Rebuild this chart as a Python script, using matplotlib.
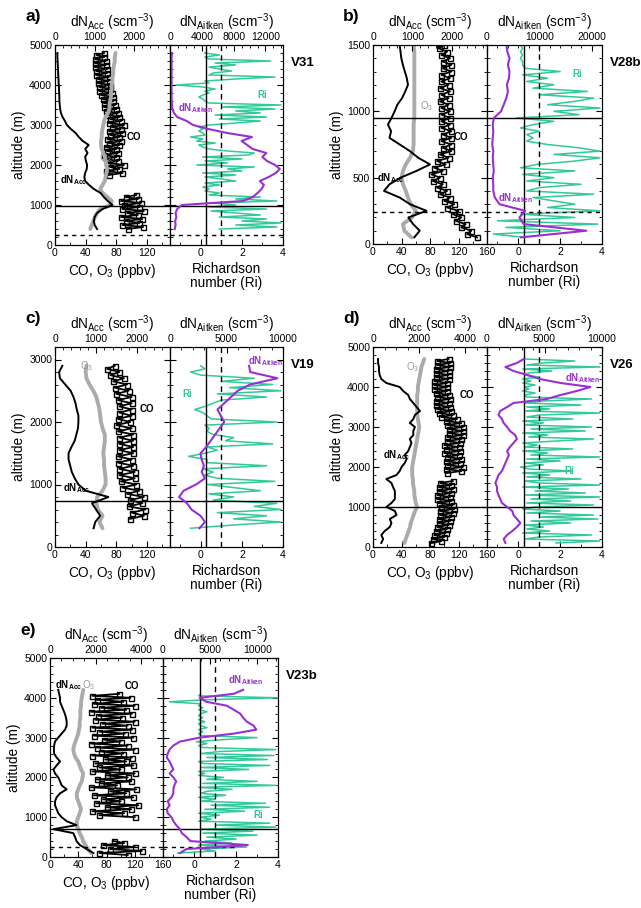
import numpy as np
import matplotlib
matplotlib.use("Agg")
import matplotlib.pyplot as plt
from matplotlib.ticker import MultipleLocator

plt.rcParams['font.family'] = ['Liberation Sans', 'DejaVu Sans']
plt.rcParams['mathtext.fontset'] = 'custom'
plt.rcParams['mathtext.rm'] = 'Liberation Sans'
plt.rcParams['mathtext.it'] = 'Liberation Sans:italic'
plt.rcParams['mathtext.bf'] = 'Liberation Sans:bold'

PURPLE = '#9a2fd2'
GREEN = '#33c99a'
GREY = '#ababab'

# ---------------- panel a) V31 ----------------
a_alt = np.arange(400, 4801, 100)
a_acc = [1060, 1000, 980, 1000, 1060, 1200, 1450, 1330, 1230, 1150,
         980, 860, 760, 740, 760, 800, 810, 780, 760, 820,
         760, 850, 700, 600, 520, 400, 300, 250, 190, 150,
         130, 120, 110, 110, 105, 100, 95, 90, 85, 80,
         75, 70, 65, 60, 60]
a_o3 = [46, 48, 50, 52, 55, 59, 72, 74, 68, 62,
        59, 62, 65, 66, 67, 68, 67, 66, 65, 63,
        61, 60, 60, 61, 61, 62, 63, 64, 66, 69,
        71, 71, 72, 73, 73, 74, 74, 75, 75, 76,
        76, 77, 78, 78, 79]
a_ait = [600, 700, 650, 800, 700, 900, 1500, 9200, 10400, 11000,
         11500, 11800, 11300, 12400, 13300, 13800, 13200, 12200, 11600, 12100,
         10400, 9700, 9000, 10300, 7200, 4800, 2900, 2100, 900, 500,
         300, 250, 200, 200, 200, 200, 200, 200, 200, 200,
         200, 200, 200, 200, 250]
a_co_alt = np.arange(400, 4801, 50)
a_co = [95, 115, 88, 110, 92, 114, 86, 108, 94, 116,
        88, 110, 90, 112, 86, 108, 92, 106,
        np.nan, np.nan, np.nan, np.nan, np.nan, np.nan, np.nan, np.nan, np.nan,
        70, 88, 66, 84, 72, 90, 68, 82, 66, 80,
        64, 82, 68, 80, 66, 84, 70,
        86, 68, 84, 72, 88, 70, 86, 74, 90, 70,
        86, 72, 84, 68, 82, 66, 80, 64, 78, 64,
        76, 62, 76, 60, 74, 58, 72, 58, 72, 56,
        70, 56, 70, 54, 68, 54, 68, 52, 66, 52,
        66, 52, 64, 54, 64]
a_ri_alt = np.arange(400, 4801, 50)
a_ri = [0.9, 3.7, 1.7, 3.9, 2.0, 3.2, 0.9, 2.9, 1.7, 0.5,
        3.2, 0.4, 1.7, 0.6, 3.7, 1.7, 2.9, 0.4, 0.9, 0.2,
        0.4, 0.1, 0.9, 0.2, 1.7, 1.0, 0.2, 1.7, 0.1, 2.0,
        1.3, 2.6, -0.2, 1.3, 0.2, 2.0, 0.1, 2.3, 2.6, 1.3,
        0.4, 0.1, -0.1, 0.7, -0.2, 0.1, -0.5, 0.2, 0.1, -0.1,
        0.1, -0.1, 0.4, 1.7, 2.9, 0.9, 3.2, 0.7, 2.9, 1.7,
        3.6, 1.0, 3.9, 0.4, 0.2, 0.1, -0.1, 0.1, 0.4, 0.2,
        0.7, 0.1, -1.2, 0.4, 0.2, 1.7, 3.6, 0.4, 0.6, 1.5,
        0.9, 0.4, 1.7, 0.7, 3.4, 0.4, 0.2, 0.9, 0.2]

# ---------------- panel b) V28b ----------------
b_alt = np.arange(50, 1501, 50)
b_acc = [1050, 1190, 1020, 900, 1360, 940, 680, 280, 420, 700,
         1100, 1450, 1150, 940, 680, 420, 460, 380, 470, 550,
         620, 740, 820, 890, 860, 810, 760, 720, 700, 680]
b_o3 = [54, 44, 42, 55, 60, 53, 49, 46, 42, 40,
        42, 46, 52, 56, 57, 57, 57, 57, 58, 58,
        58, 58, 58, 58, 58, 58, 58, 58, 58, 57]
b_ait = [6500, 19000, 7000, 6200, 7300, 2400, 1500, 1200, 1200, 1100,
         1300, 1200, 1100, 1200, 1000, 1100, 1200, 1100, 1300, 2700,
         3200, 3700, 4000, 3800, 4200, 4300, 4000, 4300, 3900, 3700]
b_co_alt = np.arange(50, 1501, 25)
b_co = [146, 132, 138, 124, 130, 116, 124, 112, 120, 104,
        114, 100, 108, 94, 104, 90, 98, 84, 94, 82,
        98, 86, 102, 90, 106, 94, 110, 98, 110, 96,
        110, 98, 110, 96, 108, 96, 108, 96, 108, 96,
        106, 94, 106, 96, 108, 94, 106, 96, 108, 96,
        110, 98, 110, 98, 108, 96, 104, 92, 100]
b_ri_alt = np.arange(50, 1501, 25)
b_ri = [0.3, -1.2, 2.0, -0.6, 3.8, -1.0, 2.7, 0.1, 3.9,
        1.4, 2.7, 1.7, 0.7, 3.6, 0.4, 1.0, 3.0, 0.4, 1.7,
        0.2, 2.7, 0.1, 0.9, 2.7, 3.9, 1.7, 3.9, 2.9, 1.4,
        0.4, 0.7, 0.4, 1.0, 0.1, 0.7, 1.7, -0.1, 2.9, 1.7,
        3.9, 1.4, 2.7, 3.6, 1.0, 3.3, 0.7, 1.7, 0.4, 1.4,
        0.2, 2.0, 0.3, 0.2, 0.2, 0.1, 0.2, 0.1, 0.2, 0.1]

# ---------------- panel c) V19 ----------------
c_alt = np.arange(300, 2901, 100)
c_acc = [940, 980, 1100, 1000, 900, 1300, 750, 570, 480, 410,
         370, 330, 330, 400, 480, 520, 560, 570, 570, 530,
         500, 450, 380, 250, 120, 100, 180]
c_o3 = [62, 58, 62, 56, 54, 55, 62, 66, 66, 65,
        64, 64, 63, 64, 65, 65, 62, 60, 59, 58,
        56, 54, 50, 45, 41, 40, 41]
c_ait = [2600, 3100, 2700, 1900, 1500, 800, 1200, 2300, 3100, 2800,
         3000, 2800, 2700, 3200, 3600, 4000, 4400, 4800, 4500, 4200,
         4800, 5400, 6000, 7100, 9500, 7100, 7000]
c_co_alt = np.arange(450, 2901, 50)
c_co = [98, 116, 100, 118, 96, 114, 98, 116, 94, 110,
        88, 106, 86, 104, 84, 104, 84, 102, 82, 100,
        82, 102, 84, 102, 84, 102, 84, 102, 82, 100,
        80, 98, 82, 100, 84, 100, 84, 100, 82, 100,
        80, 96, 78, 94, 76, 90, 72, 84, 68, 78]
c_ri_alt = np.arange(300, 2901, 50)
c_ri = [-0.5, 1.5, 3.9, 1.6, 3.2, 0.8, 3.9, 2.6, 3.7, 0.6,
        1.6, 0.4, 2.9, 1.6, 0.3, 3.6, 0.8, 0.2, 0.6, 0.1,
        3.2, 0.3, 0.3, -0.6, 0.2, 0.8, 0.3, 3.5, 1.2, 1.6,
        0.6, 0.3, 0.4, 0.2, 3.7, 0.5, 0.3, 0.1, -0.3, 0.2,
        0.6, 1.0, 3.2, 0.8, 3.9, 1.4, 3.5, 1.0, 2.6, 0.0,
        -0.5, 0.2, 0.0]

# ---------------- panel d) V26 ----------------
d_alt = np.arange(100, 4701, 100)
d_acc = [360, 440, 360, 510, 730, 800, 730, 1020, 950, 580,
         800, 950, 950, 950, 870, 800, 580, 1020, 1160, 1240,
         1380, 1460, 1380, 1530, 1600, 1670, 1600, 1750, 1750, 1820,
         1600, 1750, 1820, 2040, 1890, 1750, 1600, 1530, 1310, 1160,
         580, 360, 290, 260, 260, 220, 220]
d_o3 = [44, 46, 48, 50, 52, 53, 55, 57, 59, 62,
        60, 59, 58, 58, 57, 56, 56, 55, 55, 55,
        56, 57, 58, 59, 60, 61, 62, 63, 64, 65,
        64, 63, 62, 62, 62, 62, 62, 62, 63, 63,
        64, 65, 66, 67, 68, 70, 72]
d_ait = [1600, 1450, 1750, 2200, 2600, 2900, 2600, 2300, 2200, 1750,
         1300, 1150, 1000, 870, 870, 730, 870, 1000, 1300, 1450,
         1600, 1750, 1900, 1750, 2000, 2300, 2600, 2450, 2000, 1750,
         1450, 1300, 1000, 1150, 1750, 2300, 5200, 6400, 7800, 9000,
         6400, 4600, 3500, 2300, 1600, 2600, 3200]
d_co_alt = np.arange(100, 4701, 50)
d_co = [82, 96, 84, 100, 86, 102, 88, 104, 90, 106,
        92, 108, 92, 110, 94, 112, 94, 114, 96, 112,
        92, 110, 90, 108, 90, 110, 92, 112, 92, 110,
        94, 112, np.nan, np.nan, np.nan, 104, 124, 102, 126, 104,
        122, 102, 124, 104, 120, 100, 122, 102, 120, 100,
        122, 104, 124, 104, 126, 106, 126, 106, 126, 104,
        124, 102, 118, 96, 112, 92, 110, 90, 108, 88,
        106, 88, 108, 90, 106, 88, 104, 86, 104, 86,
        104, 86, 106, 88, 106, 88, 106, 88, 108, 90,
        108, 90, 106]
d_ri_alt = np.arange(100, 4701, 50)
d_ri = [1.8, 3.9, 0.3, 1.0, 3.5, 0.2, 1.5, 0.4, 1.2, 0.3,
        2.5, 0.6, 3.8, 1.0, 3.6, 0.4, 2.0, 0.2, 0.8, 3.6,
        0.4, 2.5, 0.6, 3.9, 0.3, 3.2, 0.8, 2.4, 0.2, 3.9,
        1.0, 0.3, 3.0, 0.4, 1.5, 0.2, 2.6, 0.5, 0.1, 1.2,
        0.3, 2.0, 0.4, 3.9, 0.6, 1.4, 0.2, 2.6, 0.3, 0.9,
        0.2, 1.8, 3.6, 0.5, 1.4, 0.2, 3.2, 0.6, 3.5, 0.3,
        1.2, 0.2, 2.6, 0.4, 1.0, 3.9, 0.3, 1.5, 0.4, 3.0,
        0.3, 1.2, 3.5, 0.4, 0.3, 0.8, 0.2, 0.5, 0.3, 0.8,
        0.2, 0.6, 0.2, 1.0, 0.3, 0.5, 1.6, 0.2, 3.9, 0.4,
        1.2, 2.7, 0.3]

# ---------------- panel e) V23b ----------------
e_alt = np.arange(100, 4201, 100)
e_acc = [1900, 1600, 1310, 1160, 1100, 1020, 150, 1160, 730, 510,
         360, 290, 220, 220, 290, 440, 730, 510, 440, 360,
         220, 150, 290, 440, 290, 180, 170, 180, 220, 360,
         510, 660, 730, 730, 700, 650, 580, 510, 440, 440,
         400, 360]
e_o3 = [58, 54, 50, 47, 45, 42, 40, 38, 38, 40,
        42, 44, 42, 40, 38, 38, 40, 42, 45, 46,
        47, 44, 42, 40, 36, 34, 33, 34, 36, 38,
        40, 41, 42, 42, 43, 43, 43, 44, 44, 45,
        46, 47]
e_ait = [1800, 2500, 9000, 2900, 2500, 2000, 1800, 1400, 1100, 900,
         500, 400, 700, 500, 900, 1100, 1100, 1200, 1400, 1100,
         700, 1100, 900, 700, 400, 500, 700, 1100, 1800, 3900,
         7500, 9900, 9600, 8900, 8500, 8200, 7500, 6800, 4600, 3900,
         7500, 8500]
e_co_alt = np.arange(50, 4101, 50)
e_co = [110, 70, 130, 85, 120, 75, 105, 90,
        np.nan, np.nan, np.nan, np.nan, np.nan, np.nan, np.nan, np.nan, np.nan, np.nan, np.nan,
        120, 70, 105, 60, 115, 80, 125, 65, 100, 75,
        118, 62, 108, 85, 122, 58, 95, 72, 115, 66,
        110, 80, 120, 60, 100, 70, 118, 64, 108, 78,
        116, 60, 104, 72, 120, 66, 110, 58, 100, 76,
        118, 62, 106, 70, 116, 60, 110, 74, 120, 64,
        102, 68, 116, 58, 108, 72, 120, 62, 104, 66,
        114, 60, 98]
e_ri_alt = np.arange(100, 4101, 50)
e_ri = [-0.8, 1.0, 0.3, 2.5, 0.2, 1.8, 0.5, 2.0, 0.6, 3.0,
        0.4, 2.8, 0.3, 3.9, 1.0, 3.6, 0.2, 0.8, 0.3, 1.2,
        0.2, 2.4, 0.5, 3.6, 0.8, 3.4, 0.3, 1.0, 0.2, 1.5,
        0.3, 0.6, 1.8, 0.2, 3.9, 0.4, 3.0, 0.6, 1.4, 0.2,
        0.5, 0.2, 2.6, 0.3, 3.6, 0.4, 0.2, 3.5, 0.6, 3.8,
        0.3, 1.2, 3.9, 0.4, 0.2, 0.6, 0.1, 1.4, 3.0, 0.3,
        0.2, 0.4, 0.2, 0.6, 0.3, 0.2, 0.5, 0.2, 0.4, 0.2,
        0.3, 0.6, 0.2, 0.4, 0.2, 0.3, -1.2, 0.5, 4.0, 0.2,
        0.3]

W, H = 641, 908
fig = plt.figure(figsize=(W / 100, H / 100), dpi=100)

TICK = 7.5
LAB = 9.8


def fx(px):
    return px / W


def fy(py):
    return 1 - py / H


def ticks_in(ax):
    ax.tick_params(which='both', direction='in', labelsize=TICK, pad=2)
    ax.tick_params(which='major', length=4)
    ax.tick_params(which='minor', length=2)


def panel(x0, xm, x1, ytop, ybot, d, lay):
    axl = fig.add_axes([fx(x0), fy(ybot), fx(xm - x0), (ybot - ytop) / H])
    axr = fig.add_axes([fx(xm), fy(ybot), fx(x1 - xm), (ybot - ytop) / H], sharey=axl)

    # left: CO, O3 and dN_Acc
    axl.plot(d['co'], d['co_alt'], color='k', lw=1.3, marker='s', ms=3.6,
             mfc='none', mec='k', mew=1.0)
    axl.plot(d['o3'], d['alt'], color=GREY, lw=2.8, solid_capstyle='round')
    axl.set_xlim(lay['co_lim'])
    axl.set_ylim(lay['ylim'])
    axl.xaxis.set_major_locator(MultipleLocator(40))
    axl.xaxis.set_minor_locator(MultipleLocator(20))
    axl.yaxis.set_major_locator(MultipleLocator(lay['ymaj']))
    axl.yaxis.set_minor_locator(MultipleLocator(lay['ymin']))
    ticks_in(axl)
    axl.tick_params(which='both', right=True, top=False)
    axl.set_xlabel('CO, O$_3$ (ppbv)', fontsize=LAB, labelpad=3)
    axl.set_ylabel('altitude (m)', fontsize=LAB, labelpad=2)

    tl = axl.twiny()
    tl.plot(d['acc'], d['alt'], color='k', lw=1.4)
    tl.set_xlim(lay['acc_lim'])
    tl.xaxis.set_major_locator(MultipleLocator(lay['acc_maj']))
    tl.xaxis.set_minor_locator(MultipleLocator(lay['acc_min']))
    ticks_in(tl)
    tl.set_xlabel('dN$_{\\mathrm{Acc}}$ (scm$^{-3}$)', fontsize=LAB, labelpad=4)

    # right: Richardson number and dN_Aitken
    axr.plot(d['ri'], d['ri_alt'], color=GREEN, lw=1.1)
    axr.axvline(0.25, color='k', lw=1.0)
    axr.axvline(1.0, color='k', lw=1.0, ls=(0, (4, 3)))
    axr.set_xlim(-1.5, 4)
    axr.set_xticks([0, 2, 4])
    axr.xaxis.set_minor_locator(MultipleLocator(1))
    ticks_in(axr)
    axr.tick_params(which='both', left=True, right=True, labelleft=False, top=False)
    axr.set_xlabel('Richardson\nnumber (Ri)', fontsize=LAB, labelpad=3, linespacing=1.0)

    tr = axr.twiny()
    tr.plot(d['ait'], d['alt'], color=PURPLE, lw=1.5)
    tr.set_xlim(lay['ait_lim'])
    tr.xaxis.set_major_locator(MultipleLocator(lay['ait_maj']))
    tr.xaxis.set_minor_locator(MultipleLocator(lay['ait_min']))
    ticks_in(tr)
    tr.set_xlabel('dN$_{\\mathrm{Aitken}}$ (scm$^{-3}$)', fontsize=LAB, labelpad=4)

    axl.axhline(lay['pbl'], color='k', lw=1.0)
    axr.axhline(lay['pbl'], color='k', lw=1.0)
    if lay['dash'] is not None:
        axl.axhline(lay['dash'], color='k', lw=1.0, ls=(0, (3, 3)))
        axr.axhline(lay['dash'], xmax=lay['dash_end'], color='k', lw=1.0, ls=(0, (3, 3)))

    # in-plot labels
    axl.text(*lay['t_co'], 'CO', fontsize=7, fontweight='bold', ha='left', va='center')
    axl.text(*lay['t_o3'], 'O$_3$', fontsize=7, color='#999999', ha='left', va='center')
    axl.text(*lay['t_acc'], '$\\mathbf{dN_{Acc}}$', fontsize=7, ha='left', va='center')
    axr.text(*lay['t_ri'], 'Ri', fontsize=7, fontweight='bold', color=GREEN, ha='left', va='center')
    axr.text(*lay['t_ait'], '$\\mathbf{dN_{Aitken}}$', fontsize=7, color=PURPLE, ha='left', va='center')
    return axl, axr


data = {
    'a': dict(alt=a_alt, acc=a_acc, o3=a_o3, ait=a_ait, co_alt=a_co_alt, co=a_co,
              ri_alt=a_ri_alt, ri=a_ri),
    'b': dict(alt=b_alt, acc=b_acc, o3=b_o3, ait=b_ait, co_alt=b_co_alt, co=b_co,
              ri_alt=b_ri_alt, ri=b_ri),
    'c': dict(alt=c_alt, acc=c_acc, o3=c_o3, ait=c_ait, co_alt=c_co_alt, co=c_co,
              ri_alt=c_ri_alt, ri=c_ri),
    'd': dict(alt=d_alt, acc=d_acc, o3=d_o3, ait=d_ait, co_alt=d_co_alt, co=d_co,
              ri_alt=d_ri_alt, ri=d_ri),
    'e': dict(alt=e_alt, acc=e_acc, o3=e_o3, ait=e_ait, co_alt=e_co_alt, co=e_co,
              ri_alt=e_ri_alt, ri=e_ri),
}

layout = {
    'a': dict(box=(55, 170, 283, 45, 245), ylim=(0, 5000), ymaj=1000, ymin=200,
              co_lim=(0, 150), acc_lim=(0, 2900), acc_maj=1000, acc_min=200,
              ait_lim=(0, 14200), ait_maj=4000, ait_min=1000, pbl=970, dash=250, dash_end=1.0,
              t_co=(93, 2700), t_o3=(57, 2170), t_acc=(6, 1620), t_ri=(2.75, 3750),
              t_ait=(-1.1, 3420), tag='a)', name='V31'),
    'b': dict(box=(373, 487, 602, 45, 244), ylim=(0, 1500), ymaj=500, ymin=100,
              co_lim=(0, 160), acc_lim=(0, 2900), acc_maj=1000, acc_min=200,
              ait_lim=(0, 22000), ait_maj=10000, ait_min=2000, pbl=950, dash=240, dash_end=1.0,
              t_co=(113, 810), t_o3=(66, 1040), t_acc=(5, 495), t_ri=(2.6, 1285),
              t_ait=(-0.95, 345), tag='b)', name='V28b'),
    'c': dict(box=(55, 170, 283, 347, 547), ylim=(0, 3200), ymaj=1000, ymin=200,
              co_lim=(0, 150), acc_lim=(0, 2800), acc_maj=1000, acc_min=200,
              ait_lim=(0, 10000), ait_maj=5000, ait_min=1000, pbl=734, dash=None, dash_end=1.0,
              t_co=(111, 2210), t_o3=(33, 2890), t_acc=(11, 950), t_ri=(-0.9, 2450),
              t_ait=(2.3, 2970), tag='c)', name='V19'),
    'd': dict(box=(373, 487, 602, 347, 547), ylim=(0, 5000), ymaj=1000, ymin=200,
              co_lim=(0, 160), acc_lim=(0, 4950), acc_maj=2000, acc_min=500,
              ait_lim=(0, 10000), ait_maj=5000, ait_min=1000, pbl=1000, dash=None, dash_end=1.0,
              t_co=(121, 3790), t_o3=(46, 4500), t_acc=(14, 2290), t_ri=(2.2, 1890),
              t_ait=(2.25, 4230), tag='d)', name='V26'),
    'e': dict(box=(50, 163, 278, 658, 857), ylim=(0, 5000), ymaj=1000, ymin=200,
              co_lim=(0, 160), acc_lim=(0, 4950), acc_maj=2000, acc_min=500,
              ait_lim=(0, 12200), ait_maj=5000, ait_min=1000, pbl=714, dash=252, dash_end=0.62,
              t_co=(106, 4290), t_o3=(45, 4330), t_acc=(7, 4330), t_ri=(2.8, 1050),
              t_ait=(1.6, 4450), tag='e)', name='V23b'),
}

for key in 'abcde':
    lay = layout[key]
    x0, xm, x1, yt, yb = lay['box']
    panel(x0, xm, x1, yt, yb, data[key], lay)
    fig.text(fx(x0 - 22), fy(yt - 28), lay['tag'], fontsize=12.5, fontweight='bold',
             ha='center', va='center')
    fig.text(fx(x1 + 8), fy(yt + 18), lay['name'], fontsize=9.5, fontweight='bold',
             ha='left', va='center')

fig.savefig('out.png', dpi=100)
